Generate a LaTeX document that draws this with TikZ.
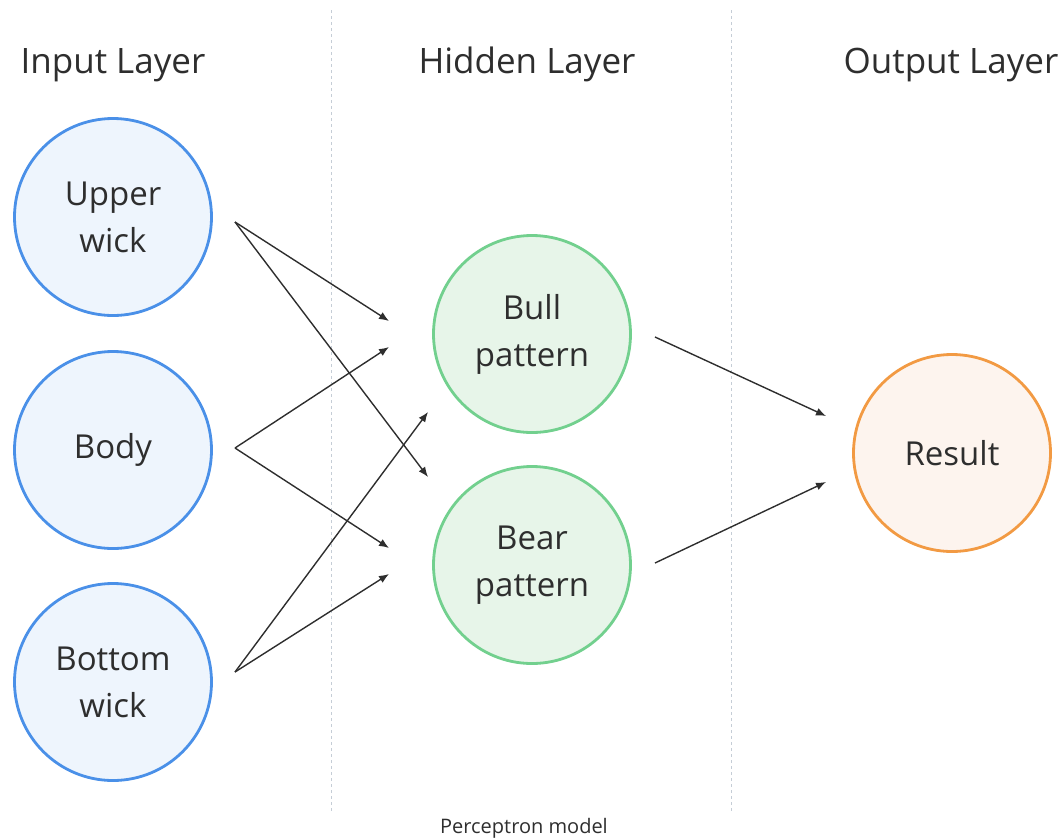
\documentclass[tikz,border=0pt]{standalone}
\usepackage{fontspec}
\setmainfont{Open Sans}
\usetikzlibrary{arrows.meta}
\definecolor{txt}{HTML}{2E2E2E}
\definecolor{bluebd}{HTML}{4A90E8}
\definecolor{bluefl}{HTML}{EEF5FD}
\definecolor{greenbd}{HTML}{72D08E}
\definecolor{greenfl}{HTML}{E7F5E9}
\definecolor{orangebd}{HTML}{F29A43}
\definecolor{orangefl}{HTML}{FDF4EE}
\definecolor{sep}{HTML}{C5CDD6}
\tikzset{
  x=1pt, y=-1pt,
  neuron/.style={circle, minimum size=197pt, inner sep=0pt, line width=2.8pt, text=txt, align=center,
    font=\fontsize{33}{47}\selectfont},
  innode/.style={neuron, draw=bluebd, fill=bluefl},
  hidnode/.style={neuron, draw=greenbd, fill=greenfl},
  outnode/.style={neuron, draw=orangebd, fill=orangefl},
  header/.style={text=txt, font=\fontsize{35}{40}\selectfont, inner sep=0pt},
  conn/.style={draw=txt, line width=1.4pt, -{Latex[length=10pt,width=8pt]}},
  sepline/.style={draw=sep, line width=1pt, dash pattern=on 3pt off 3pt},
}
\begin{document}
\begin{tikzpicture}
\useasboundingbox (0,0) rectangle (1058,839);
\draw[sepline] (331,10) -- (331,812);
\draw[sepline] (731,10) -- (731,812);

\node[header, anchor=base] (h1) at (113,73) {Input Layer};
\node[header, anchor=base] (h2) at (527,73) {Hidden Layer};
\node[header, anchor=base] (h3) at (951,73) {Output Layer};

\node[innode] (up) at (113,217) {Upper\\wick};
\node[innode] (body) at (113,450) {Body};
\node[innode] (bot) at (113,682) {Bottom\\wick};
\node[hidnode] (bull) at (532,334) {Bull\\pattern};
\node[hidnode] (bear) at (532,565) {Bear\\pattern};
\node[outnode] (res) at (952,453) {Result};

\coordinate (upS) at (235,222);
\coordinate (bodyS) at (235,448);
\coordinate (botS) at (235,672);
\coordinate (bullS) at (655,337);
\coordinate (bearS) at (655,563);
\coordinate (bullA) at (389,321);
\coordinate (bullB) at (389,347);
\coordinate (bullC) at (428,412);
\coordinate (bearA) at (428,477);
\coordinate (bearB) at (389,548);
\coordinate (bearC) at (389,574);
\coordinate (resA) at (826,416);
\coordinate (resB) at (826,482);

\draw[conn] (upS) -- (bullA);
\draw[conn] (upS) -- (bearA);
\draw[conn] (bodyS) -- (bullB);
\draw[conn] (bodyS) -- (bearB);
\draw[conn] (botS) -- (bullC);
\draw[conn] (botS) -- (bearC);
\draw[conn] (bullS) -- (resA);
\draw[conn] (bearS) -- (resB);

\node[text=txt, font=\fontsize{20}{24}\selectfont, inner sep=0pt] (cap) at (524,828) {Perceptron model};
\end{tikzpicture}
\end{document}
